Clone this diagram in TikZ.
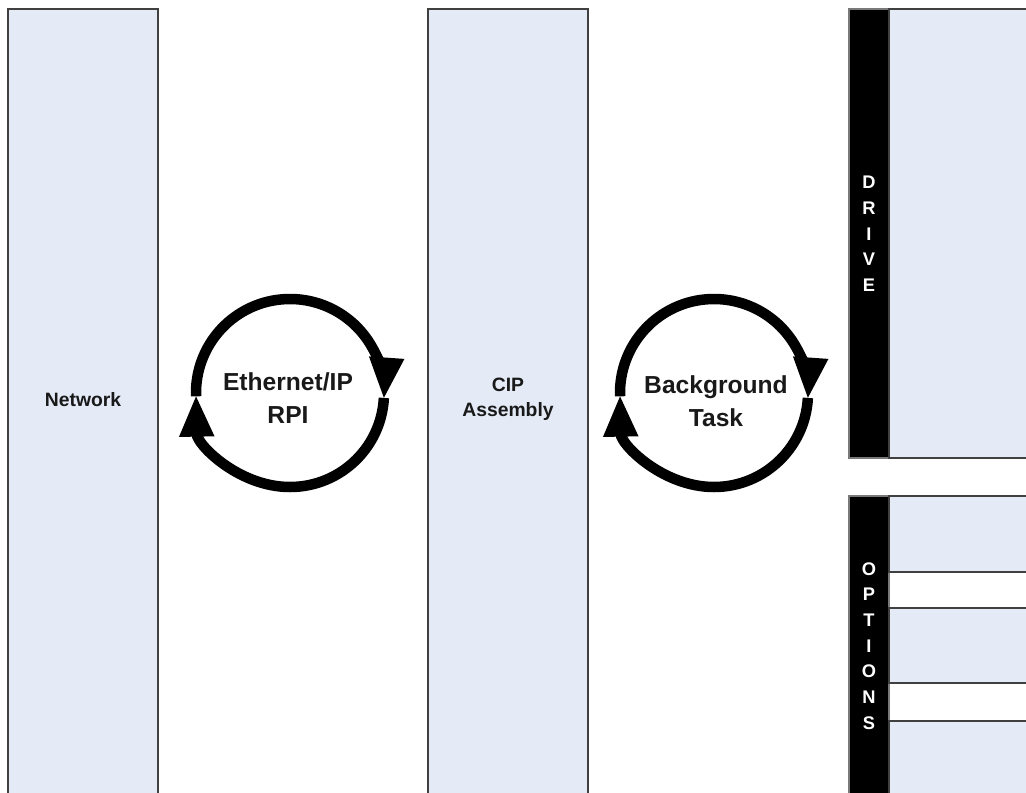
\documentclass[tikz,border=0pt]{standalone}
\usepackage{fontspec}
\setmainfont{Liberation Sans}
\usetikzlibrary{arrows.meta,positioning}
\definecolor{lanefill}{HTML}{E4EBF6}
\definecolor{laneedge}{HTML}{404040}

\begin{document}
\begin{tikzpicture}[x=0.1mm, y=0.1mm,
    lane/.style={draw=laneedge, line width=0.2mm, fill=lanefill, anchor=north west,
                 inner sep=0pt, outer sep=0pt},
    bar/.style={draw=laneedge!70, line width=0.2mm, fill=black, anchor=north west,
                inner sep=0pt, outer sep=0pt, minimum width=4mm},
    lbl/.style={font=\fontsize{5.5}{7.1}\selectfont\bfseries, align=center, text=black!90},
    cyclbl/.style={font=\fontsize{7}{9.4}\selectfont\bfseries, align=center, text=black!90},
    barlbl/.style={font=\fontsize{5.2}{7.3}\selectfont\bfseries, align=center, text=white},
    cyc/.style={line width=1.05mm, -{Triangle[width=3.2mm,length=4.2mm]}}
]

\useasboundingbox (0,0) rectangle (1026,792);
\clip (0,0) rectangle (1026,792);

% --- lanes ---
\node[lane, minimum width=15mm, minimum height=79.3mm] (network) at (8,783) {};
\node[lane, minimum width=16mm, minimum height=79.3mm] (cip) at (428,783) {};

% --- drive ---
\node[bar, minimum height=44.9mm] (drivebar) at (849,783) {};
\node[lane, minimum width=15mm, minimum height=44.9mm] (drive) at (889,783) {};

% --- options ---
\node[bar, minimum height=30.6mm] (optbar) at (849,296) {};
\node[lane, minimum width=15mm, minimum height=7.6mm] (opta) at (889,296) {};
\node[lane, minimum width=15mm, minimum height=7.5mm] (optb) at (889,184) {};
\node[lane, minimum width=15mm, minimum height=8.1mm] (optc) at (889,71) {};

% --- labels ---
\node[lbl] (nettxt) at (83,392) {Network};
\node[lbl] (ciptxt) at (508,393) {CIP\\Assembly};
\node[barlbl] (drivetxt) at (869,558) {D\\R\\I\\V\\E};
\node[barlbl] (opttxt) at (869,146) {O\\P\\T\\I\\O\\N\\S};

% --- cycles ---
\coordinate (rpi) at (290,399);
\coordinate (bg) at (714,399);
\node[cyclbl] (rpitxt) at (288,394) {Ethernet/IP\\RPI};
\node[cyclbl] (bgtxt) at (716,391) {Background\\Task};

\draw[cyc] (rpi) ++(182:94) arc[start angle=182, end angle=-4, radius=94];
\draw[cyc] (rpi) ++(-3:94) arc[start angle=-3, end angle=-179, radius=94];
\draw[cyc] (bg) ++(182:94) arc[start angle=182, end angle=-4, radius=94];
\draw[cyc] (bg) ++(-3:94) arc[start angle=-3, end angle=-179, radius=94];

\end{tikzpicture}
\end{document}
